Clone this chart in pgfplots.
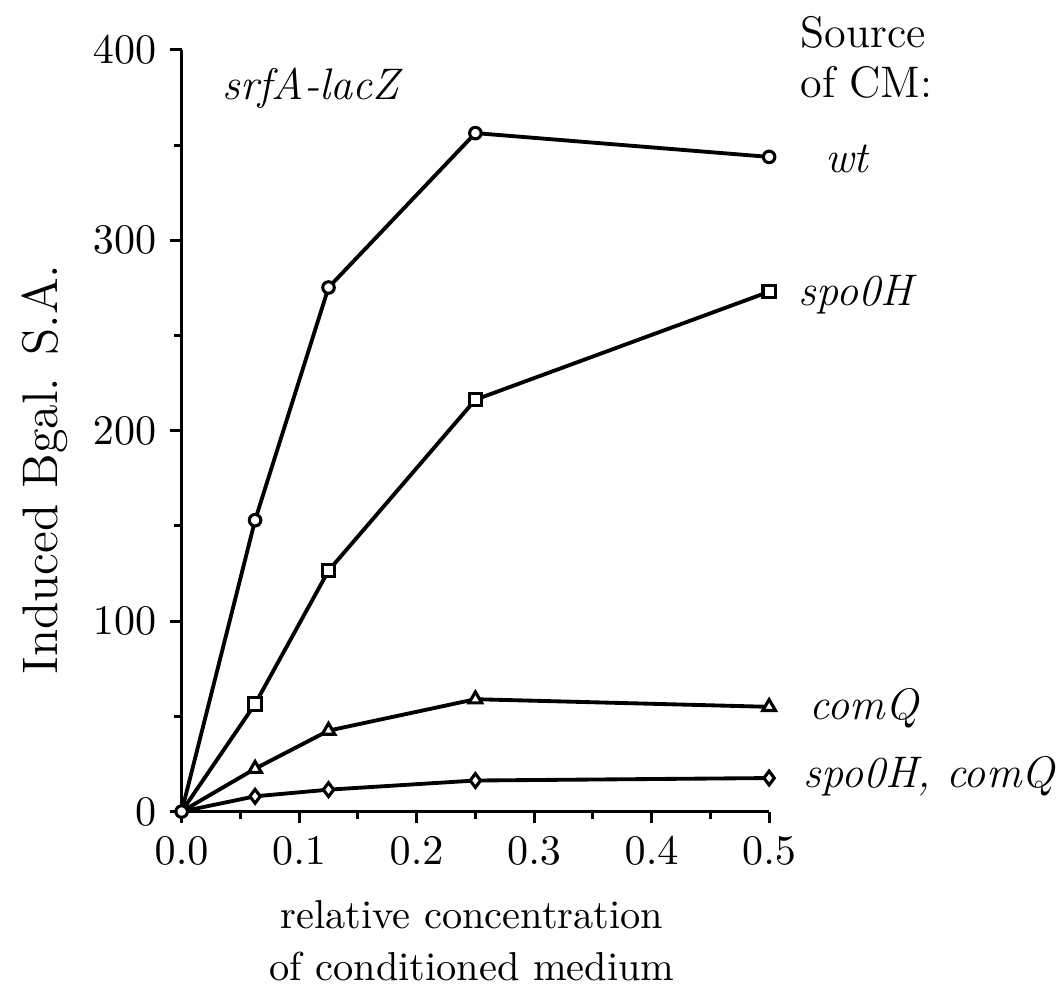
\documentclass[border=0pt]{standalone}
\usepackage{pgfplots}
\pgfplotsset{compat=1.18}
\begin{document}
\begin{tikzpicture}
\begin{axis}[
  scale only axis,
  width=152.8pt, height=198.1pt,
  xmin=0, xmax=0.5, ymin=0, ymax=400,
  clip=false,
  axis x line=bottom, axis y line=left,
  axis line style={line width=0.8pt, -},
  xtick={0,0.1,0.2,0.3,0.4,0.5},
  ytick={0,100,200,300,400},
  minor x tick num=1, minor y tick num=1,
  tick align=outside,
  major tick length=3.1pt, minor tick length=2pt,
  tick style={black, line width=0.8pt},
  xticklabel style={font=\fontsize{10.5}{12}\selectfont, /pgf/number format/.cd, fixed, fixed zerofill, precision=1},
  yticklabel style={font=\fontsize{10.5}{12}\selectfont},
  xlabel={relative concentration\\of conditioned medium},
  xlabel style={font=\fontsize{10.5}{13.4}\selectfont, align=center, inner sep=0pt,
    at={(axis description cs:0.4943,-0.116)}, anchor=north},
  ylabel={Induced Bgal. S.A.},
  ylabel style={font=\fontsize{13}{15}\selectfont, inner sep=0pt,
    at={(axis description cs:-0.2326,0.449)}, anchor=center},
  every axis plot/.append style={black, line width=1pt},
]
\addplot[mark=diamond*, mark size=1.8pt, mark indices={2,3,4,5},
  mark options={fill=white, line width=0.8pt}] coordinates {
  (0,0) (0.0625,8) (0.125,11.5) (0.25,16.3) (0.5,17.6)};
\addplot[mark=triangle*, mark size=1.9pt, mark indices={2,3,4,5},
  mark options={fill=white, line width=0.8pt}] coordinates {
  (0,0) (0.0625,22.5) (0.125,42.5) (0.25,59) (0.5,55)};
\addplot[mark=square*, mark size=1.6pt, mark indices={2,3,4,5},
  mark options={fill=white, line width=0.8pt}] coordinates {
  (0,0) (0.0625,56.5) (0.125,126.5) (0.25,216.3) (0.5,273)};
\addplot[mark=*, mark size=1.5pt,
  mark options={fill=white, line width=0.8pt}] coordinates {
  (0,0) (0.0625,153) (0.125,275.2) (0.25,356.3) (0.5,343.8)};

\path (axis cs:-0.1546,426.2) rectangle (axis cs:0.7467,-93);

\begin{scope}[every node/.style={inner sep=0pt, anchor=base west, font=\fontsize{11.5}{13.8}\selectfont}]
\node at (axis cs:0.0343,373.8) {\itshape srfA-lacZ};
\node at (axis cs:0.526,401) {Source};
\node at (axis cs:0.526,375) {of CM:};
\node at (axis cs:0.547,335.4) {\itshape wt};
\node at (axis cs:0.5247,266) {\itshape spo0H};
\node at (axis cs:0.534,48.3) {\itshape comQ};
\node at (axis cs:0.5287,12.6) {\itshape spo0H, comQ};
\end{scope}
\end{axis}
\end{tikzpicture}
\end{document}
